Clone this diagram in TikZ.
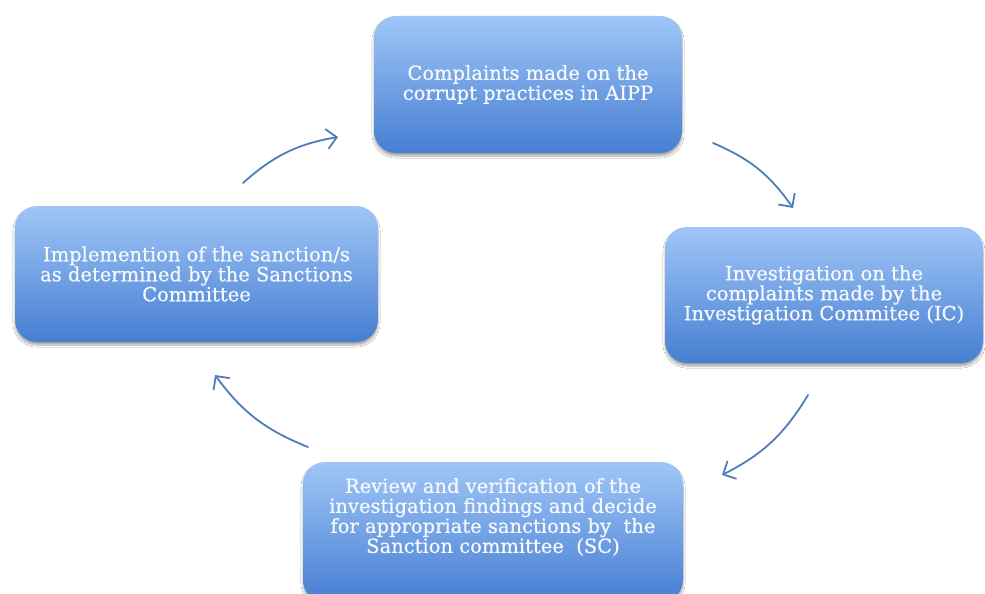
\documentclass[tikz,border=0pt]{standalone}
\usepackage{fontspec}
\setmainfont[FakeBold=0.6]{DejaVu Serif}
\usetikzlibrary{arrows.meta,shadows.blur}
\definecolor{boxTop}{RGB}{160,198,247}
\definecolor{boxBot}{RGB}{70,126,210}
\definecolor{arrowBlue}{RGB}{79,125,186}
\definecolor{txt}{RGB}{246,249,252}
\newcommand{\stagefont}{\fontsize{19.5}{20}\selectfont\setlength{\lineskiplimit}{-30pt}\setlength{\lineskip}{0pt}}
\tikzset{
  stage/.style={rounded corners=22pt, top color=boxTop, bottom color=boxBot,
    draw=none, blur shadow={shadow xshift=0pt, shadow yshift=-3pt, shadow blur steps=6, shadow opacity=35},
    text=txt, align=center, inner sep=0pt, font=\stagefont},
  label text/.style={text=txt, align=center, inner sep=0pt, font=\stagefont},
  flow/.style={draw=arrowBlue, line width=1.8pt, line cap=round,
    -{Straight Barb[length=10pt,width=20pt,line width=1.8pt]}, bend left=16}
}
\begin{document}
\begin{tikzpicture}[x=1pt,y=1pt]
\useasboundingbox (0,0) rectangle (985,-594);
\clip (0,0) rectangle (985,-594);
\fill[white] (0,0) rectangle (985,-594);
\node[stage, minimum width=308, minimum height=137] (top) at (528,-84.5)
  {Complaints made on the\\corrupt practices in AIPP};
\node[stage, minimum width=318, minimum height=136] (right) at (824,-295)
  {Investigation on the\\complaints made by the\\Investigation Commitee (IC)};
\node[stage, minimum width=380, minimum height=140] (bottom) at (493,-532) {};
\node[label text] (bottomText) at (493,-517)
  {Review and verification of the\\investigation findings and decide\\for appropriate sanctions by\ \ the\\Sanction committee\ \ (SC)};
\node[stage, minimum width=363, minimum height=136] (left) at (196.5,-274)
  {Implemention of the sanction/s\\as determined by the Sanctions\\Committee};
\coordinate (a1s) at (243,-183); \coordinate (a1e) at (338,-137);
\coordinate (a2s) at (713,-143); \coordinate (a2e) at (793,-208);
\coordinate (a3s) at (808,-395); \coordinate (a3e) at (722,-475);
\coordinate (a4s) at (308,-447); \coordinate (a4e) at (215,-375);
\draw[flow] (a1s) to (a1e);
\draw[flow] (a2s) to (a2e);
\draw[flow] (a3s) to (a3e);
\draw[flow] (a4s) to (a4e);
\end{tikzpicture}
\end{document}
